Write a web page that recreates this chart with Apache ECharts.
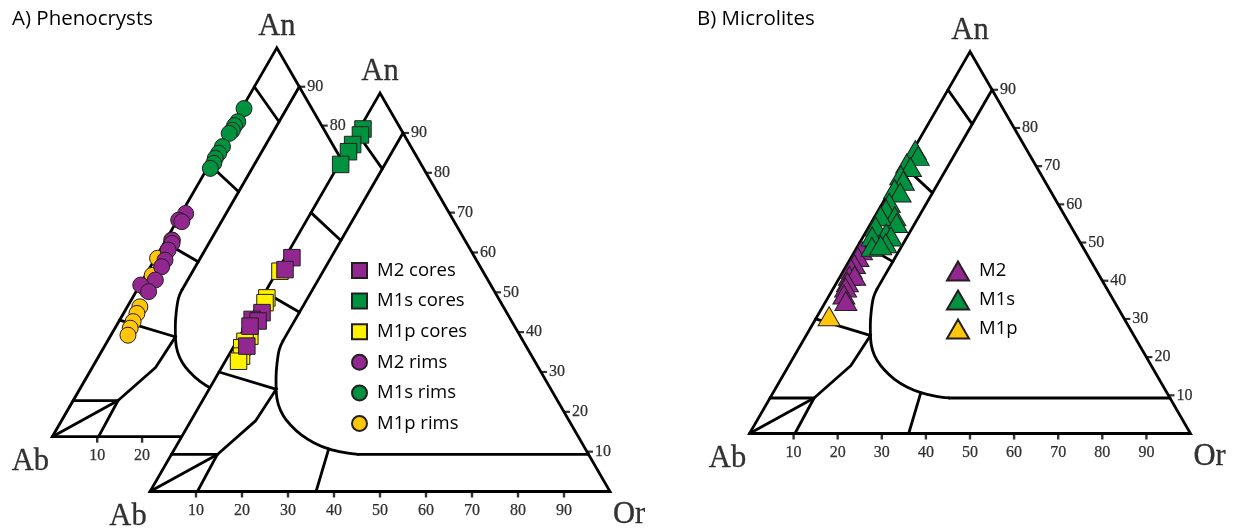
<!DOCTYPE html>
<html><head><meta charset="utf-8">
<script src="https://cdn.jsdelivr.net/npm/echarts@6/dist/echarts.min.js"></script>
<style>html,body{margin:0;padding:0;background:#fff}#c{width:1238px;height:531px}</style>
</head><body><div id="c"></div>
<script>
// ===== DATA: feldspar compositions as [An, Or] in mol % (Ab = 100 - An - Or) =====
// A) Phenocrysts - cores (front triangle, squares)
const m2Cores  = [[58.7,1.5],[55.7,1.5],[44.9,1.9],[43.2,0.6],[42.8,2.1],[41.5,1.0],[36.5,2.8]];
const m1sCores = [[91.0,0.8],[89.5,1.0],[87.1,0.5],[85.3,0.5],[82.1,0.4]];
const m1pCores = [[55.3,0.6],[48.6,1.1],[47.4,1.3],[39.0,2.2],[37.7,1.8],[36.1,1.9],[34.0,2.9],[32.7,2.9]];
// A) Phenocrysts - rims (back triangle, circles)
const m2Rims   = [[57.4,1.0],[55.7,0.3],[55.3,1.2],[50.5,1.5],[49.7,1.8],[48.0,1.8],[45.4,2.4],[43.7,2.5],[40.3,2.8],[39.0,0.2],[37.3,2.8]];
const m1sRims  = [[84.4,0.5],[81.0,0.8],[80.0,0.6],[78.8,0.7],[78.0,0.4],[74.6,0.6],[72.9,0.6],[71.6,0.5],[70.3,0.8],[69.0,0.7]];
const m1pRims  = [[50.6,1.3],[45.9,0.5],[41.5,1.5],[37.7,2.2],[33.4,2.8],[31.7,3.0],[29.6,3.2],[27.9,3.4],[26.1,3.8]];
// B) Microlites (triangles)
const m2Micro  = [[48.0,1.4],[46.2,1.5],[44.4,1.6],[43.1,1.5],[41.3,2.0],[41.3,3.2],[39.6,2.4],[38.2,2.7],[36.4,3.2],[34.7,4.5]];
const m1sMicro = [[74.2,0.5],[72.7,1.9],[70.7,0.3],[69.8,1.6],[67.6,0.5],[66.2,1.8],[64.0,0.9],[63.1,2.6],[60.4,1.5],[58.7,1.6],
                  [56.9,4.5],[56.9,1.3],[55.1,5.8],[54.2,1.5],[52.4,4.8],[51.6,2.0],[51.6,6.3],[49.8,6.0],[48.9,3.3],[49.3,5.1]];
const m1pMicro = [[30.7,2.7]];
// Axis tick labels and vertex names
const edgeTicks = [10,20,30,40,50,60,70,80,90];
const vertexNames = ['An','Ab','Or'];
// Feldspar classification boundaries as [An, Or]
const triVerts = [[100,0],[0,0],[0,100]];
const plagBoundaries = [[[90,0],[81,10]],[[70,0],[63,10]],[[50,0],[45,10]],[[30,0],[25.7,14.5]],[[9.3,0],[9.3,10]]];
const innerLine = [[90,10],[37.8,10]];
const solvusCurve = [[37.8,10],[35.6,10.3],[32.0,11.6],[28.4,13.2],[24.9,15.0],[21.8,17.0],[19.1,19.4],[16.7,22.2],[14.2,25.8],[12.2,29.6],[10.7,33.5],[9.8,37.2],[9.3,40.6]];
const solvusFlat = [[9.3,40.6],[9.3,90.7]];
const anorthoclaseLine = [[25.8,14.6],[17.8,14.1],[9.3,10],[0,10.3]];
const abCornerLine = [[0,0],[9.3,10]];
const sanidineLine = [[0,36.1],[10.7,33.5]];

// ===== RENDERING =====
const S = Math.sqrt(3)/2;
const LW = 2.8;
const SERIF = '"Liberation Serif","DejaVu Serif",serif';
const SANS = '"Open Sans","Noto Sans",sans-serif';
const PURPLE = '#92278F', GREEN = '#00923F', YELLOW = '#FFF200', ORANGE = '#FFC60B', EDGE = '#231F20';
function xy(p){ return [p[1] + p[0]/2, p[0]*S]; }

// triangle placements: [left, bottomY, side]
const tris = [[52.3,436.7,449],[150,491.5,460],[749.5,433.5,441]];
const grid = tris.map(t => ({left:t[0], top:t[1]-t[2]*S, width:t[2], height:t[2]*S, containLabel:false}));
const xAxis = tris.map((t,i) => ({type:'value', gridIndex:i, min:0, max:100, show:false}));
const yAxis = tris.map((t,i) => ({type:'value', gridIndex:i, min:0, max:100*S, show:false}));

function triSeries(gi, z){
  return {type:'custom', xAxisIndex:gi, yAxisIndex:gi, z, silent:true, clip:false, data:[[0,0]],
    renderItem:(params, api) => ({type:'polygon', shape:{points: triVerts.map(v => api.coord(xy(v)))},
      style:{fill:'#fff', stroke:'#000', lineWidth:LW, lineJoin:'miter'}})};
}
function lineSeries(gi, pts, z, smooth){
  return {type:'line', xAxisIndex:gi, yAxisIndex:gi, data:pts.map(xy), symbol:'none', showSymbol:false,
    smooth: smooth || false, clip:false, silent:true, z, lineStyle:{color:'#000', width:LW, cap:'round', join:'round'}};
}
const tickLabel = {fontFamily:SERIF, fontSize:16, color:'#000', textBorderColor:'#000', textBorderWidth:0.25};
function frameSeries(gi, z){
  const out = [triSeries(gi, z)];
  plagBoundaries.forEach(b => out.push(lineSeries(gi, b, z+1)));
  [innerLine, solvusFlat, anorthoclaseLine, abCornerLine, sanidineLine].forEach(l => out.push(lineSeries(gi, l, z+1)));
  out.push(lineSeries(gi, solvusCurve, z+1, 0.35));
  // right edge (An) ticks
  out.push({type:'scatter', xAxisIndex:gi, yAxisIndex:gi, z:z+1, silent:true, clip:false,
    data: edgeTicks.map(t => ({value: xy([t, 100-t]), name:String(t)})),
    symbol:'rect', symbolSize:[6,2.2], symbolOffset:[3,0], itemStyle:{color:'#000'},
    label:Object.assign({show:true, position:'right', distance:2, formatter:'{b}'}, tickLabel)});
  // bottom edge (Or) ticks
  out.push({type:'scatter', xAxisIndex:gi, yAxisIndex:gi, z:z+1, silent:true, clip:false,
    data: edgeTicks.map(t => ({value: xy([0, t]), name:String(t)})),
    symbol:'rect', symbolSize:[2.4,6], symbolOffset:[0,3], itemStyle:{color:'#000'},
    label:Object.assign({show:true, position:'bottom', distance:5, formatter:'{b}'}, tickLabel)});
  // vertex names
  const offs = [[0,-21],[-22,25],[19,23]];
  out.push({type:'scatter', xAxisIndex:gi, yAxisIndex:gi, z:z+1, silent:true, clip:false,
    data: triVerts.map((v,i) => ({value: xy(v), name: vertexNames[i], label:{offset: offs[i]}})),
    symbol:'circle', symbolSize:1, itemStyle:{color:'rgba(0,0,0,0)'},
    label:{show:true, position:'inside', formatter:'{b}', fontFamily:SERIF, fontSize:30.5, color:'#000',
           textBorderColor:'#000', textBorderWidth:0.3}});
  return out;
}
function markerSeries(name, gi, data, symbol, size, color, z){
  return {type:'scatter', name, xAxisIndex:gi, yAxisIndex:gi, z, clip:false, data:data.map(xy),
    symbol, symbolSize:size, itemStyle:{color, borderColor:EDGE, borderWidth:1, opacity:1}};
}

const series = [].concat(
  frameSeries(0, 1),
  [markerSeries('M1p rims', 0, m1pRims, 'circle', 16, ORANGE, 3),
   markerSeries('M2 rims', 0, m2Rims, 'circle', 16, PURPLE, 4),
   markerSeries('M1s rims', 0, m1sRims, 'circle', 16, GREEN, 4)],
  frameSeries(1, 10),
  [markerSeries('M1p cores', 1, m1pCores, 'rect', 16.5, YELLOW, 12),
   markerSeries('M2 cores', 1, m2Cores, 'rect', 16.5, PURPLE, 13),
   markerSeries('M1s cores', 1, m1sCores, 'rect', 16.5, GREEN, 13)],
  frameSeries(2, 1),
  [markerSeries('M2', 2, m2Micro, 'triangle', [22,19], PURPLE, 3),
   markerSeries('M1s', 2, m1sMicro, 'triangle', [22,19], GREEN, 4),
   markerSeries('M1p', 2, m1pMicro, 'triangle', [22,19], ORANGE, 4)]
);

const chart = echarts.init(document.getElementById('c'), null, {renderer:'canvas'});
chart.setOption({
  animation:false,
  backgroundColor:'#fff',
  title:[
    {text:'A) Phenocrysts', left:12, top:9, padding:0, textStyle:{fontFamily:SANS, fontSize:20.5, fontWeight:'normal', color:'#000', lineHeight:21}},
    {text:'B) Microlites', left:697, top:9, padding:0, textStyle:{fontFamily:SANS, fontSize:20.5, fontWeight:'normal', color:'#000', lineHeight:21}}
  ],
  legend:[
    {data:['M2 cores','M1s cores','M1p cores','M2 rims','M1s rims','M1p rims'], orient:'vertical', left:351, top:261, padding:0,
     itemWidth:15, itemHeight:15, itemGap:11.6, z:30, selectedMode:false,
     textStyle:{fontFamily:SANS, fontSize:18.5, color:'#000', lineHeight:15, padding:[0,0,0,5]}},
    {data:['M2','M1s','M1p'], orient:'vertical', left:946, top:260.5, padding:0,
     itemWidth:22, itemHeight:19, itemGap:8, z:30, selectedMode:false,
     textStyle:{fontFamily:SANS, fontSize:18.5, color:'#000', lineHeight:19, padding:[0,0,0,5]}}
  ],
  grid, xAxis, yAxis, series
});
</script></body></html>
